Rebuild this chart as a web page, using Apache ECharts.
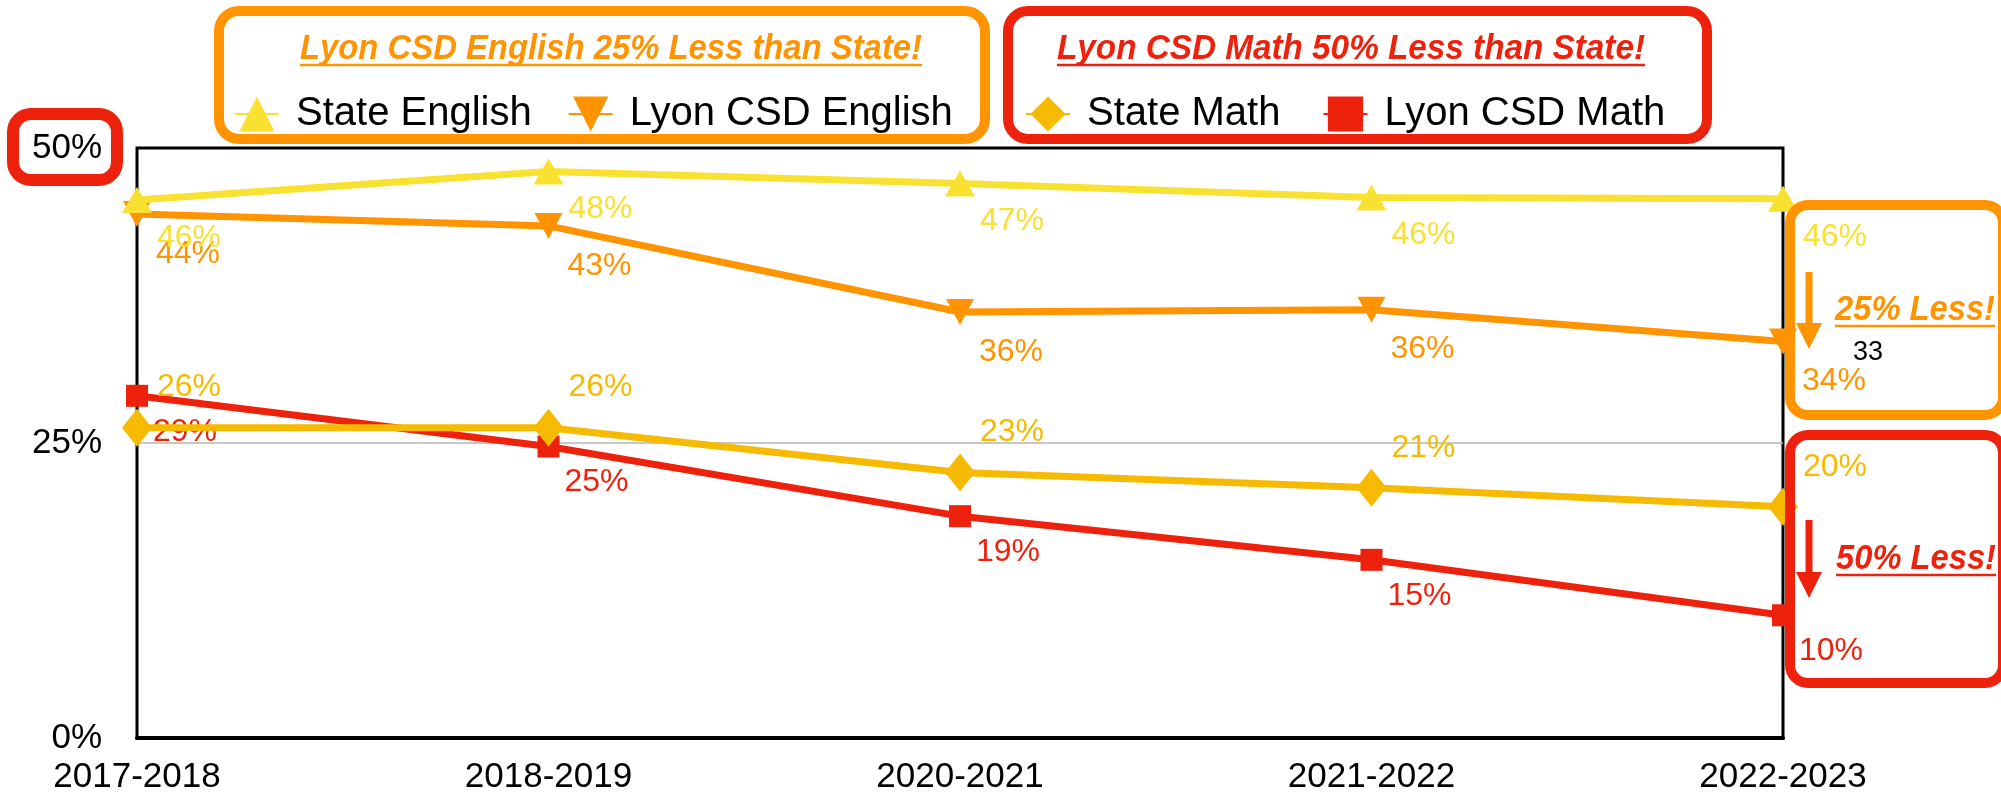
<!DOCTYPE html>
<html>
<head>
<meta charset="utf-8">
<script src="https://cdn.jsdelivr.net/npm/echarts@6/dist/echarts.min.js"></script>
<style>html,body{margin:0;padding:0;background:#fff;}#chart{width:2001px;height:801px;}</style>
</head>
<body>
<div id="chart"></div>
<script>
const categories = ['2017-2018', '2018-2019', '2020-2021', '2021-2022', '2022-2023'];
const stateEnglish = [45.6, 48.0, 47.0, 45.8, 45.7];
const lyonEnglish = [44.4, 43.4, 36.1, 36.3, 33.6];
const stateMath = [26.3, 26.3, 22.5, 21.2, 19.6];
const lyonMath = [29.0, 24.7, 18.8, 15.1, 10.4];
const yTicks = [0, 25, 50];

const FONT = "'Liberation Sans', Helvetica, Arial, sans-serif";
const C_YELLOW = '#F9E132';
const C_ORANGE = '#FF9300';
const C_GOLD = '#F6BA00';
const C_RED = '#EE220C';

function measure(text, font) {
  const c = document.createElement('canvas').getContext('2d');
  c.font = font;
  return c.measureText(text).width;
}

const chart = echarts.init(document.getElementById('chart'));

function mkSeries(name, data, color, symbol, size, rotate, labelOffset, z) {
  return {
    name: name, type: 'line', data: data, z: z,
    symbol: symbol, symbolSize: size, symbolRotate: rotate,
    lineStyle: { color: color, width: 7 },
    itemStyle: { color: color },
    label: {
      show: true, position: 'right', distance: 5, offset: labelOffset,
      color: color, fontSize: 32, fontFamily: FONT,
      formatter: p => Math.round(p.value) + '%'
    },
    emphasis: { disabled: true },
    animation: false
  };
}

const titleFont = "italic bold 35px 'Liberation Sans'";
function titleText(text, cx, cy, color, align, targetW) {
  const w = measure(text, titleFont);
  const s = targetW / w;
  const left = align === 'center' ? cx - targetW / 2 : cx;
  return [
    { type: 'text', x: cx, y: cy, scaleX: s, style: { text: text, font: titleFont, fill: color, align: align, verticalAlign: 'middle' }, z: 100 },
    { type: 'line', shape: { x1: left, y1: cy + 16, x2: left + targetW, y2: cy + 16 }, style: { stroke: color, lineWidth: 2.5 }, z: 100 }
  ];
}

const graphics = [
  // boxes
  { type: 'rect', shape: { x: 13, y: 114, width: 104, height: 66, r: 18 }, style: { fill: 'none', stroke: C_RED, lineWidth: 12 }, z: 100 },
  { type: 'rect', shape: { x: 219, y: 11, width: 766, height: 128, r: 20 }, style: { fill: 'none', stroke: C_ORANGE, lineWidth: 10 }, z: 100 },
  { type: 'rect', shape: { x: 1008, y: 11, width: 699, height: 128, r: 20 }, style: { fill: 'none', stroke: C_RED, lineWidth: 10 }, z: 100 },
  { type: 'rect', shape: { x: 1790, y: 205, width: 213, height: 210, r: 18 }, style: { fill: 'none', stroke: C_ORANGE, lineWidth: 10 }, z: 100 },
  { type: 'rect', shape: { x: 1790, y: 435, width: 213, height: 248, r: 18 }, style: { fill: 'none', stroke: C_RED, lineWidth: 10 }, z: 100 },
  // titles
  ...titleText('Lyon CSD English 25% Less than State!', 611, 49, C_ORANGE, 'center', 622),
  ...titleText('Lyon CSD Math 50% Less than State!', 1351, 49, C_RED, 'center', 588),
  ...titleText('25% Less!', 1835, 310, C_ORANGE, 'left', 160),
  ...titleText('50% Less!', 1836, 559, C_RED, 'left', 160),
  // arrows
  { type: 'line', shape: { x1: 1809, y1: 272, x2: 1809, y2: 326 }, style: { stroke: C_ORANGE, lineWidth: 7 }, z: 100 },
  { type: 'polygon', shape: { points: [[1796, 323], [1822, 323], [1809, 349]] }, style: { fill: C_ORANGE }, z: 100 },
  { type: 'line', shape: { x1: 1809, y1: 520, x2: 1809, y2: 575 }, style: { stroke: C_RED, lineWidth: 7 }, z: 100 },
  { type: 'polygon', shape: { points: [[1796, 572], [1822, 572], [1809, 598]] }, style: { fill: C_RED }, z: 100 },
  // stray annotation
  { type: 'text', x: 1868, y: 353, style: { text: '33', font: "27px 'Liberation Sans'", fill: '#000', align: 'center', verticalAlign: 'middle' }, z: 100 }
];

const legendText = { fontSize: 40, fontFamily: FONT, color: '#000', padding: [0, 0, 0, 12] };

chart.setOption({
  animation: false,
  backgroundColor: '#fff',
  legend: [
    { data: ['State English', 'Lyon CSD English'], left: 229, top: 89, itemWidth: 44, itemHeight: 44, itemGap: 36, textStyle: legendText, selectedMode: false },
    { data: ['State Math', 'Lyon CSD Math'], left: 1020, top: 89, itemWidth: 44, itemHeight: 44, itemGap: 42, textStyle: legendText, selectedMode: false }
  ],
  grid: { left: 137, right: 218, top: 148, bottom: 63, show: true, borderColor: '#000', borderWidth: 3, containLabel: false },
  xAxis: {
    type: 'category', data: categories, boundaryGap: false,
    axisLine: { show: true, lineStyle: { color: '#000', width: 4 } },
    axisTick: { show: false },
    axisLabel: { color: '#000', fontSize: 35, fontFamily: FONT, margin: 22, interval: 0 },
    splitLine: { show: false }
  },
  yAxis: {
    type: 'value', min: yTicks[0], max: yTicks[yTicks.length - 1], interval: 25,
    axisLine: { show: false }, axisTick: { show: false },
    axisLabel: { color: '#000', fontSize: 35, fontFamily: FONT, margin: 35, formatter: '{value}%' },
    splitLine: { show: true, lineStyle: { color: ['#000', '#b5b5b5', '#000'], width: 1.5 } }
  },
  series: [
    mkSeries('Lyon CSD English', lyonEnglish, C_ORANGE, 'triangle', [28, 26], 180, [0, 40], 2),
    mkSeries('Lyon CSD Math', lyonMath, C_RED, 'rect', [22, 22], 0, [0, 36], 2),
    mkSeries('State English', stateEnglish, C_YELLOW, 'triangle', [30, 26], 0, [0, 38], 3),
    mkSeries('State Math', stateMath, C_GOLD, 'diamond', [30, 38], 0, [0, -40], 3)
  ],
  graphic: graphics
});
</script>
</body>
</html>
